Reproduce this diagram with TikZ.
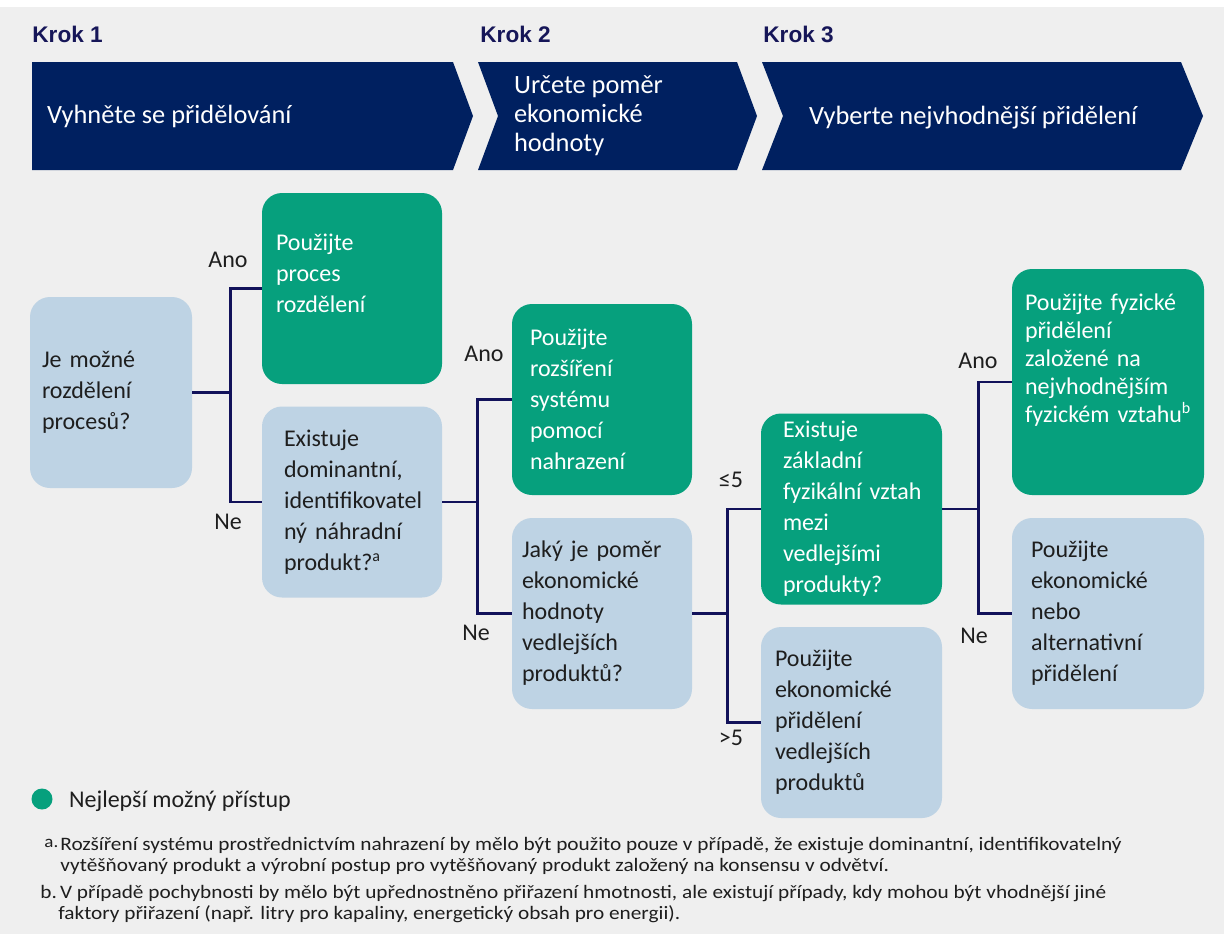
\documentclass[tikz,border=0pt]{standalone}
\usepackage{fontspec}
\setmainfont{Carlito}
\newfontfamily\krokfont{Liberation Sans}
\newfontfamily\notefont[FakeStretch=1.12]{Carlito}
\usetikzlibrary{positioning}
\definecolor{navy}{RGB}{0,32,96}
\definecolor{krokblue}{RGB}{22,22,88}
\definecolor{bestgreen}{RGB}{6,160,125}
\definecolor{askblue}{RGB}{190,211,228}
\definecolor{pagegray}{RGB}{239,239,239}
\definecolor{inkgray}{RGB}{30,30,30}
\definecolor{linenavy}{RGB}{18,18,90}
\begin{document}
\begin{tikzpicture}[x=0.5pt,y=-0.5pt]
    \def\bh{95.5pt}


    \tikzstyle{krok}=[font=\krokfont\bfseries\fontsize{11.3}{13}\selectfont,text=krokblue,inner sep=0pt,anchor=base west]
    \tikzstyle{arrowtext}=[font=\fontsize{13.2}{14.5}\selectfont,text=white,align=left,anchor=west]
    \tikzstyle{best}=[fill=bestgreen,text=white,rounded corners=10pt,minimum height=\bh,align=left,font=\fontsize{12}{15.5}\selectfont]
    \tikzstyle{ask}=[fill=askblue,text=inkgray,rounded corners=10pt,minimum height=\bh,align=left,font=\fontsize{12}{15.5}\selectfont]
    \tikzstyle{answer}=[font=\fontsize{12}{14}\selectfont,text=inkgray,inner sep=0pt]
    \tikzstyle{note}=[font=\notefont\fontsize{9.5}{10.5}\selectfont,text=inkgray,align=left,inner sep=0pt]

    \useasboundingbox (0,0) rectangle (1224,934);
    \fill[pagegray] (0,7) rectangle (1224,934);

    \fill[navy] (32,62) -- (453,62) -- (473,116) -- (453,170) -- (32,170) -- cycle;
    \fill[navy] (478,62) -- (737,62) -- (757,116) -- (737,170) -- (478,170) -- (498,116) -- cycle;
    \fill[navy] (762,62) -- (1181,62) -- (1203,116) -- (1181,170) -- (762,170) -- (783,116) -- cycle;

    \node[krok]  (krok1) at (32,42) {Krok 1};
    \node[krok]  (krok2) at (480,42) {Krok 2};
    \node[krok]  (krok3) at (763,42) {Krok 3};

    \node[arrowtext]  (avoid) at (40,116) {Vyhněte se přidělování};
    \node[arrowtext]  (ratiohead) at (507,116) {Určete poměr\\ekonomické\\hodnoty};
    \node[arrowtext]  (choose) at (802,118) {Vyberte nejvhodnější přidělení};

    \node[ask,minimum width=81pt,text width=69pt,inner xsep=6pt]  (possible) at (111,392.5) {Je možné\\rozdělení\\procesů?};
    \node[best,minimum width=90pt,text width=76pt,inner xsep=7pt]  (split) at (352,288.5) {Použijte\\proces\\rozdělení\\\mbox{}};
    \node[ask,minimum width=90pt,text width=68pt,inner xsep=11pt]  (substitute) at (352,502) {Existuje\\dominantní,\\\mbox{identifikovatel}\\ný náhradní\\produkt?\textsuperscript{a}};
    \node[best,minimum width=90pt,text width=72pt,inner xsep=9pt]  (expand) at (602,399.5) {Použijte\\rozšíření\\systému\\pomocí\\nahrazení};
    \node[ask,minimum width=90pt,text width=80pt,inner xsep=5pt]  (ratio) at (602,613.5) {Jaký je poměr\\ekonomické\\hodnoty\\vedlejších\\produktů?};
    \node[best,minimum width=90.5pt,text width=68.5pt,inner xsep=11pt,inner ysep=0pt]  (relation) at (851.5,509) {Existuje\\základní\\\mbox{fyzikální vztah}\\mezi\\vedlejšími\\produkty?};
    \node[ask,minimum width=90.5pt,text width=76.5pt,inner xsep=7pt]  (econ) at (851.5,722.5) {Použijte\\ekonomické\\přidělení\\vedlejších\\produktů};
    \node[best,minimum width=96pt,minimum height=113pt,text width=83pt,inner xsep=6.5pt,font=\fontsize{12}{14}\selectfont]  (physical) at (1108,382) {\mbox{Použijte fyzické}\\přidělení\\založené na\\nejvhodnějším\\\mbox{fyzickém vztahu\textsuperscript{b}}\\[10pt]\mbox{}};
    \node[ask,minimum width=96pt,text width=77pt,inner xsep=9.5pt]  (alternative) at (1108,613.5) {Použijte\\ekonomické\\nebo\\alternativní\\přidělení};

    \tikzstyle{link} = [draw=linenavy, line width=1.4pt]

    \coordinate[right=19pt of possible] (j1);
    \coordinate[right=17.5pt of substitute] (j2);
    \coordinate[right=17.5pt of ratio] (j3);
    \coordinate[right=18pt of relation] (j4);

          \draw [link] (possible) -- (j1);
          \draw [link] (split.west) -| (j1) |- (substitute.west);
          \draw [link] (substitute) -- (j2);
          \draw [link] (expand.west) -| (j2) |- (ratio.west);
          \draw [link] (ratio) -- (j3);
          \draw [link] (relation.west) -| (j3) |- (econ.west);
          \draw [link] (relation) -- (j4);
          \draw [link] (physical.west) -| (j4) |- (alternative.west);

    \node[answer]  (ano1) at (228,260) {Ano};
    \node[answer]  (ne1) at (228,522) {Ne};
    \node[answer]  (ano2) at (484,354) {Ano};
    \node[answer]  (ne2) at (476,633) {Ne};
    \node[answer]  (le5) at (731,480) {≤5};
    \node[answer]  (gt5) at (731,738) {>5};
    \node[answer]  (ano3) at (978,361) {Ano};
    \node[answer]  (ne3) at (974,636) {Ne};

    \node[circle,fill=bestgreen,minimum size=10.5pt,inner sep=0pt]  (dot) at (42,799) {};
    \node[anchor=west,font=\fontsize{12}{14}\selectfont,text=inkgray]  (legend) at (62,801) {Nejlepší možný přístup};

    \node[note,anchor=west]  (marka) at (44,843) {\fontsize{8.5}{9}\selectfont a.};
    \node[note,anchor=west]  (notea) at (60,855.5) {Rozšíření systému prostřednictvím nahrazení by mělo být použito pouze v případě, že existuje dominantní, identifikovatelný\\vytěšňovaný produkt a výrobní postup pro vytěšňovaný produkt založený na konsensu v odvětví.};
    \node[note,anchor=west]  (noteb) at (40,904.5) {b.\,V případě pochybnosti by mělo být upřednostněno přiřazení hmotnosti, ale existují případy, kdy mohou být vhodnější jiné\\\hspace*{9pt}faktory přiřazení (např. litry pro kapaliny, energetický obsah pro energii).};

  \end{tikzpicture}
\end{document}
